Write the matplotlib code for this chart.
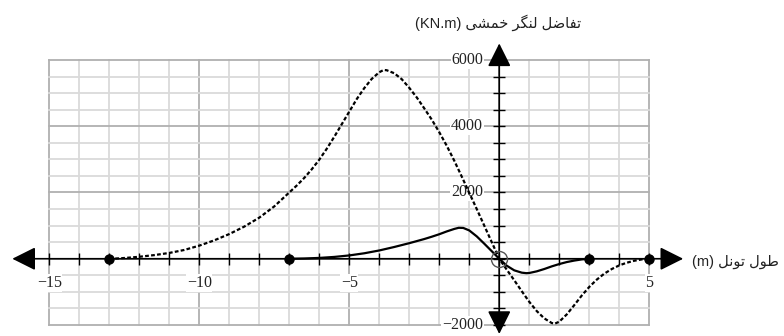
import numpy as np
import matplotlib.pyplot as plt
from matplotlib.patches import ArrowStyle

# moment differential curves
dashed_x = [-13, -12.75, -12.5, -12.25, -12, -11.5, -11, -10.5, -10, -9.5, -9, -8.5, -8,
            -7.5, -7, -6.75, -6.5, -6.25, -6, -5.75, -5.5, -5.25, -5, -4.75, -4.5,
            -4.25, -4, -3.85, -3.75, -3.5, -3.25, -3, -2.75, -2.5, -2.25, -2, -1.75, -1.5,
            -1.25, -1, -0.75, -0.5, -0.25, 0, 0.25, 0.5, 0.75, 1, 1.25, 1.5, 1.75,
            1.85, 2, 2.25, 2.5, 2.75, 3, 3.25, 3.5, 3.75, 4, 4.25, 4.5, 4.75, 5]
dashed_y = [0, 8, 22, 40, 60, 110, 175, 265, 395, 555, 745, 970, 1240,
            1580, 2000, 2210, 2440, 2700, 2990, 3320, 3680, 4060, 4440, 4820, 5150,
            5430, 5630, 5700, 5690, 5600, 5420, 5160, 4870, 4540, 4200, 3820, 3410, 2960,
            2480, 1990, 1500, 1000, 500, 0, -330, -650, -980, -1300, -1580, -1800, -1940,
            -1960, -1900, -1680, -1400, -1110, -850, -630, -450, -310, -200, -120, -60, -20, 0]
solid_x = [-7, -6.5, -6, -5.5, -5, -4.5, -4, -3.5, -3, -2.5, -2.25, -2, -1.75, -1.5,
           -1.35, -1.2, -1, -0.75, -0.5, -0.25, 0, 0.25, 0.5, 0.75, 0.9, 1,
           1.25, 1.5, 1.75, 2, 2.25, 2.5, 2.75, 3]
solid_y = [0, 8, 25, 55, 100, 165, 250, 355, 470, 595, 665, 740, 825, 900,
           935, 930, 855, 675, 455, 228, 0, -210, -350, -420, -435, -430,
           -380, -310, -230, -160, -100, -55, -20, 0]
dot_x = [-13, -7, 3, 5]

x_labels = [-15, -10, -5, 5]
y_labels = [6000, 4000, 2000, -2000]
y_title = 'تفاضل لنگر خمشی'
x_title = 'طول تونل'

# --- minimal persian shaping (matplotlib does no arabic joining) ---
# char: (isolated, final, initial, medial)
FORMS = {
    'ت': ('\ufe95', '\ufe96', '\ufe97', '\ufe98'),
    'ف': ('\ufed1', '\ufed2', '\ufed3', '\ufed4'),
    'ا': ('\ufe8d', '\ufe8e', None, None),
    'ض': ('\ufebd', '\ufebe', '\ufebf', '\ufec0'),
    'ل': ('\ufedd', '\ufede', '\ufedf', '\ufee0'),
    'ن': ('\ufee5', '\ufee6', '\ufee7', '\ufee8'),
    'گ': ('\ufb92', '\ufb93', '\ufb94', '\ufb95'),
    'ر': ('\ufead', '\ufeae', None, None),
    'خ': ('\ufea5', '\ufea6', '\ufea7', '\ufea8'),
    'م': ('\ufee1', '\ufee2', '\ufee3', '\ufee4'),
    'ش': ('\ufeb5', '\ufeb6', '\ufeb7', '\ufeb8'),
    'ی': ('\ufbfc', '\ufbfd', '\ufbfe', '\ufbff'),
    'ط': ('\ufec1', '\ufec2', '\ufec3', '\ufec4'),
    'و': ('\ufeed', '\ufeee', None, None),
}


def shape_word(w):
    out = []
    for i, c in enumerate(w):
        f = FORMS[c]
        prev_join = i > 0 and FORMS[w[i - 1]][2] is not None
        next_join = i < len(w) - 1 and f[2] is not None
        if prev_join and next_join:
            out.append(f[3])
        elif prev_join:
            out.append(f[1])
        elif next_join:
            out.append(f[2])
        else:
            out.append(f[0])
    return ''.join(out)[::-1]


def visual(text):
    return ' '.join(shape_word(w) for w in text.split()[::-1])


fig = plt.figure(figsize=(7.84, 3.36), dpi=100)
ax = fig.add_axes([0, 0, 1, 1])
ax.set_xlim(-16.64, 9.49)
ax.set_ylim(-2332, 7811)
ax.axis('off')

# grid
gx = np.arange(-15, 6)
gy = np.arange(-2000, 6001, 500)
for v in gx:
    c = '#b0b0b0' if v % 5 == 0 else '#dadada'
    ax.plot([v, v], [-2000, 6000], color=c, lw=1.3, zorder=1)
for v in gy:
    c = '#b0b0b0' if v % 2000 == 0 else '#dadada'
    ax.plot([-15, 5], [v, v], color=c, lw=1.3, zorder=1)

# axes with arrows
arr = ArrowStyle('<|-|>', head_length=0.8, head_width=0.4)
ax.annotate('', xy=(-16.23, 0), xytext=(6.13, 0),
            arrowprops=dict(arrowstyle=arr, color='black', lw=1.2,
                            mutation_scale=18, shrinkA=0, shrinkB=0), zorder=3)
ax.annotate('', xy=(0, 6500), xytext=(0, -2270),
            arrowprops=dict(arrowstyle=arr, color='black', lw=1.2,
                            mutation_scale=18, shrinkA=0, shrinkB=0), zorder=3)

# ticks
ax.plot(gx, np.zeros(len(gx)), ls='none', marker='|', ms=8, mew=1, color='black', zorder=3)
ax.plot(np.zeros(len(gy)), gy, ls='none', marker='_', ms=8, mew=1, color='black', zorder=3)

tick_font = dict(fontfamily=['Liberation Serif', 'DejaVu Serif'], fontsize=11.5, color='#222222')
box = dict(facecolor='white', edgecolor='none', pad=0.5)
for v in x_labels:
    ax.text(v, -735, str(v).replace('-', '\u2212'), ha='center', va='center',
            bbox=box, zorder=2, **tick_font)
for v in y_labels:
    ax.text(-0.54, v, str(v).replace('-', '\u2212'), ha='right', va='center',
            bbox=box, zorder=2, **tick_font)

# curves
ax.plot(dashed_x, dashed_y, color='black', lw=1.6, ls=(0, (1.7, 1.0)), zorder=4)
ax.plot(solid_x, solid_y, color='black', lw=1.6, zorder=4)
ax.plot(dot_x, np.zeros(len(dot_x)), 'o', color='black', ms=6.5, zorder=5)
ax.plot([0], [0], 'o', mfc='none', mec='#555555', mew=1, ms=11.5, zorder=5)

# axis titles
title_font = dict(fontfamily=['Liberation Sans', 'DejaVu Sans'], fontsize=10.5, color='#222222')
ax.text(-2.81, 7117, '(KN.m) ' + visual(y_title), ha='left', va='center', **title_font)
ax.text(6.42, -98, '(m) ' + visual(x_title), ha='left', va='center', **title_font)

fig.savefig('out.png', dpi=100)
